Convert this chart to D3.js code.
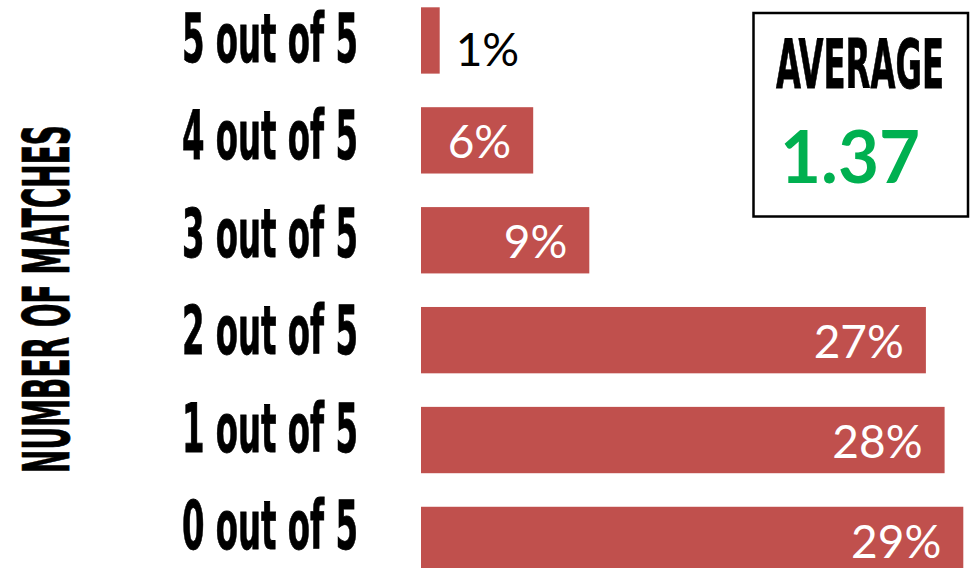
<!DOCTYPE html>
<html>
<head>
<meta charset="utf-8">
<script src="https://cdn.jsdelivr.net/npm/d3@7"></script>
<style>
  html, body { margin: 0; padding: 0; background: #fff; }
  svg { display: block; }
</style>
</head>
<body>
<svg id="chart" width="971" height="568"></svg>
<script>
// Share of respondents by number of matches (top row = 5 matches)
const categories = ["5 out of 5", "4 out of 5", "3 out of 5", "2 out of 5", "1 out of 5", "0 out of 5"];
const shares = [1, 6, 9, 27, 28, 29];
const axisTitle = "NUMBER OF MATCHES";
const averageTitle = "AVERAGE";
const averageValue = 1.37;

const BAR = "#C0504D";
const GREEN = "#00B050";
const CONDENSED = "'Liberation Sans Narrow', 'DejaVu Sans Condensed', 'Roboto Condensed', 'Liberation Sans', sans-serif";
const BODY = "Lato, 'Open Sans', 'Noto Sans', sans-serif";

const svg = d3.select("#chart");

const data = categories.map((c, i) => ({ cat: c, v: shares[i] }));

const x = d3.scaleLinear().domain([0, 30]).range([421, 982]);
const y = d3.scaleBand().domain(categories).range([7.3, 573.1]).paddingInner(0.336).paddingOuter(0);
const labelY = d3.scalePoint().domain(categories).range([62, 549]).padding(0);

// squeeze a text horizontally about its anchor point
function squeeze(sel, tx, ty, k, rot) {
  sel.attr("x", 0).attr("y", 0)
     .attr("transform", `translate(${tx},${ty})${rot ? ` rotate(${rot})` : ""} scale(${k},1)`);
}

// bars
svg.append("g").selectAll("rect")
  .data(data).join("rect")
  .attr("x", x(0))
  .attr("y", d => y(d.cat))
  .attr("width", d => x(d.v) - x(0))
  .attr("height", y.bandwidth())
  .attr("fill", BAR);

// value labels: inside the bar end in white, outside in black when the bar is too short
const fmt = d => d3.format(".0f")(d) + "%";
svg.append("g").selectAll("text")
  .data(data).join("text")
  .attr("font-family", BODY)
  .attr("font-size", 46)
  .each(function (d) {
    const inside = (x(d.v) - x(0)) > 60;
    d3.select(this)
      .attr("x", inside ? x(d.v) - 22 : x(d.v) + 16)
      .attr("y", y(d.cat) + y.bandwidth() / 2 + (inside ? 18 : 26))
      .attr("text-anchor", inside ? "end" : "start")
      .attr("fill", inside ? "#fff" : "#000")
      .text(fmt(d.v));
  });

// category labels in a condensed heavy face
const catText = svg.append("g").selectAll("text")
  .data(categories).join("text")
  .attr("font-family", CONDENSED)
  .attr("font-weight", 700)
  .attr("font-size", 67)
  .attr("fill", "#000")
  .attr("stroke", "#000")
  .attr("stroke-width", 0.8)
  .text(d => d);

// every row shares one squeeze factor so the widest row spans ~175px
const refLen = catText.filter(d => d === categories[0]).node().getComputedTextLength();
const k = 176 / refLen;
catText.each(function (d) {
  squeeze(d3.select(this), 182, labelY(d), k);
});

// vertical axis title
const title = svg.append("text")
  .attr("text-anchor", "middle")
  .attr("font-family", CONDENSED)
  .attr("font-weight", 700)
  .attr("font-size", 63.5)
  .attr("fill", "#000")
  .attr("stroke", "#000")
  .attr("stroke-width", 0.8)
  .text(axisTitle);
squeeze(title, 69, 299, 348 / title.node().getComputedTextLength(), -90);

// average callout box
const box = svg.append("g");
box.append("rect")
  .attr("x", 753.5).attr("y", 13)
  .attr("width", 214.5).attr("height", 203.5)
  .attr("fill", "#fff")
  .attr("stroke", "#000")
  .attr("stroke-width", 2.5);

const avgT = box.append("text")
  .attr("text-anchor", "middle")
  .attr("font-family", CONDENSED)
  .attr("font-weight", 700)
  .attr("font-size", 68.5)
  .attr("fill", "#000")
  .attr("stroke", "#000")
  .attr("stroke-width", 0.8)
  .text(averageTitle);
squeeze(avgT, 860, 88.3, 168 / avgT.node().getComputedTextLength());

const avgV = box.append("text")
  .attr("text-anchor", "middle")
  .attr("font-family", BODY)
  .attr("font-weight", 700)
  .attr("font-size", 73.5)
  .attr("fill", GREEN)
  .text(d3.format(".2f")(averageValue));
squeeze(avgV, 850, 182.7, 140 / avgV.node().getComputedTextLength());
</script>
</body>
</html>
